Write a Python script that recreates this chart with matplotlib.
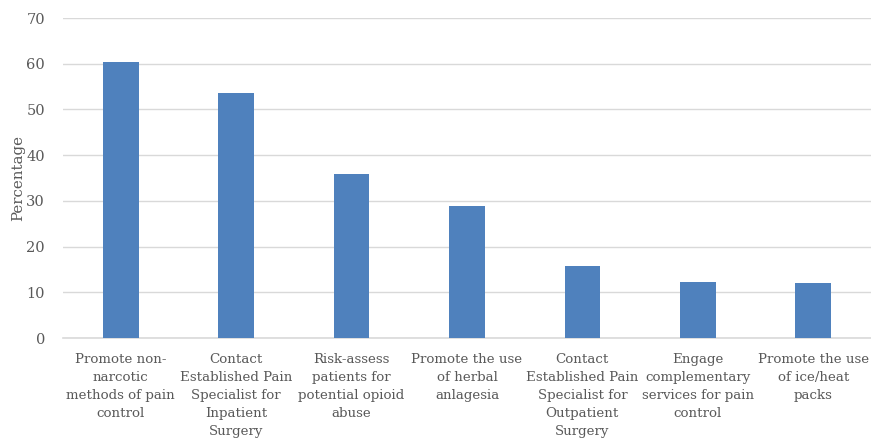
import matplotlib.pyplot as plt

# survey results: share of respondents per pain-management strategy
categories = [
    "Promote non-\nnarcotic\nmethods of pain\ncontrol",
    "Contact\nEstablished Pain\nSpecialist for\nInpatient\nSurgery",
    "Risk-assess\npatients for\npotential opioid\nabuse",
    "Promote the use\nof herbal\nanlagesia",
    "Contact\nEstablished Pain\nSpecialist for\nOutpatient\nSurgery",
    "Engage\ncomplementary\nservices for pain\ncontrol",
    "Promote the use\nof ice/heat\npacks",
]
percentages = [60.4, 53.6, 35.8, 28.9, 15.8, 12.3, 12.0]
yticks = [0, 10, 20, 30, 40, 50, 60, 70]

text_col = "#595959"
plt.rcParams['font.family'] = ['DejaVu Serif']

fig = plt.figure(figsize=(8.71, 4.4), dpi=100)
ax = fig.add_axes([63 / 871, 1 - 338 / 440, 1 - 63 / 871, 320 / 440])

x = range(len(categories))
ax.bar(x, percentages, width=0.31, color="#4f81bd", zorder=3)

ax.set_xlim(-0.5, len(categories) - 0.5)
ax.set_ylim(0, 70)
ax.set_yticks(yticks)
ax.set_xticks(list(x))
ax.set_xticklabels(categories, fontsize=9.6, color=text_col, linespacing=1.5,
                   va="top")
ax.tick_params(axis="y", labelsize=10.5, labelcolor=text_col, length=0, pad=13)
ax.tick_params(axis="x", length=0, pad=11)
ax.grid(axis="y", color="#d9d9d9", linewidth=1, zorder=0)

for s in ["top", "right", "left"]:
    ax.spines[s].set_visible(False)
ax.spines["bottom"].set_color("#d9d9d9")
ax.spines["bottom"].set_linewidth(1.2)

ax.set_ylabel("Percentage", fontsize=10.8, color=text_col, labelpad=1)

fig.savefig("out.png", dpi=100)
